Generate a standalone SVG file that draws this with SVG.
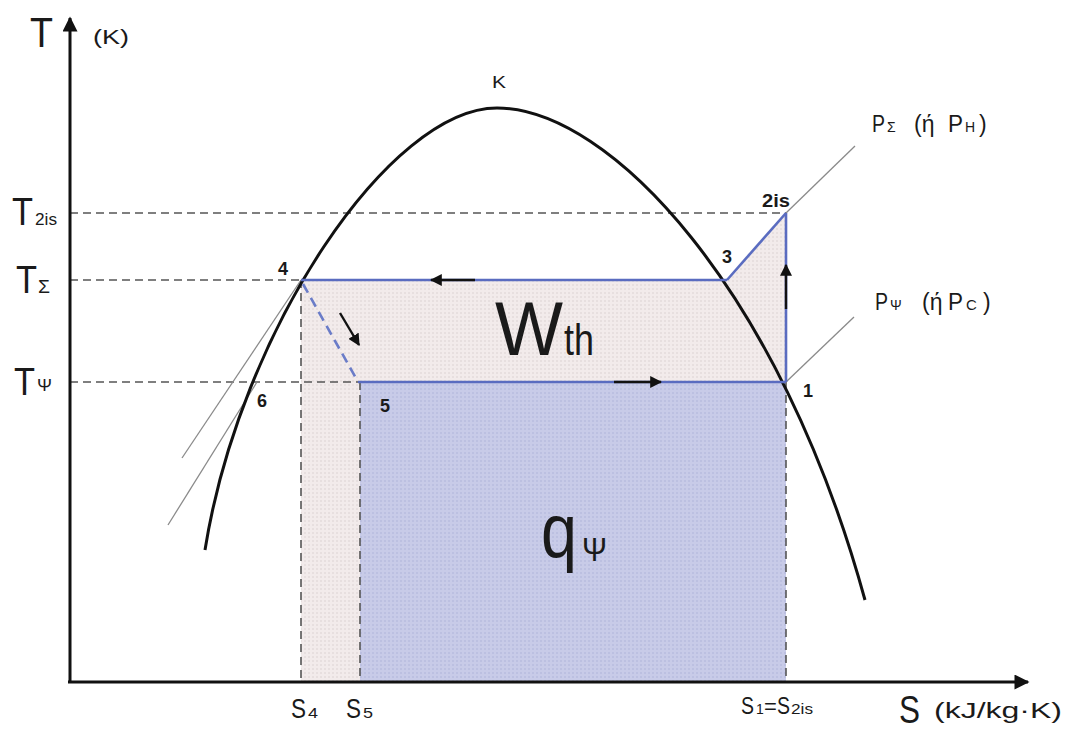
<svg xmlns="http://www.w3.org/2000/svg" width="1070" height="731" viewBox="0 0 1070 731">
<style>
text{font-family:"Liberation Sans",Arial,sans-serif;fill:#1a1a1a}
.num{font-weight:bold;font-size:18px}
.dash{stroke:#555;stroke-width:1.6;stroke-dasharray:8 5;fill:none}
.blue{stroke:#5a6cc0;stroke-width:2.6;fill:none}
.iso{stroke:#8a8a8a;stroke-width:1.3;fill:none}
.arr{stroke:#111;stroke-width:2.4;fill:none}
</style>
<defs>
<pattern id="dotPink" width="4" height="4" patternUnits="userSpaceOnUse"><rect width="4" height="4" fill="#f2ebeb"/><circle cx="1" cy="1" r="0.7" fill="#d6cacb"/></pattern>
<pattern id="dotBlue" width="4" height="4" patternUnits="userSpaceOnUse"><rect width="4" height="4" fill="#c8cbe8"/><circle cx="1" cy="1" r="0.7" fill="#a7add6"/></pattern>
<marker id="ah" viewBox="0 0 10 10" refX="9" refY="5" markerWidth="5" markerHeight="5" orient="auto" markerUnits="strokeWidth"><path d="M0,0 L10,5 L0,10 Z" fill="#111"/></marker>
<marker id="axh" viewBox="0 0 10 10" refX="9" refY="5" markerWidth="6" markerHeight="5" orient="auto" markerUnits="strokeWidth"><path d="M0,0 L10,5 L0,10 Z" fill="#111"/></marker>
</defs>
<rect width="1070" height="731" fill="#fff"/>

<g id="areas">
<polygon id="area-w" points="301,280 727,280 786,213 786,382 360,382 360,682 301,682" fill="url(#dotPink)"/>
<rect id="area-q" x="360" y="382" width="426" height="300" fill="url(#dotBlue)"/>
</g>

<g id="guides">
<line class="dash" x1="70" y1="213" x2="786" y2="213"/>
<line class="dash" x1="70" y1="280" x2="301" y2="280"/>
<line class="dash" x1="70" y1="382" x2="358" y2="382"/>
<line class="dash" x1="301" y1="280" x2="301" y2="682"/>
<line class="dash" x1="360" y1="382" x2="360" y2="682"/>
<line class="dash" x1="786" y1="382" x2="786" y2="682"/>
</g>

<g id="isobars">
<line class="iso" x1="786" y1="213" x2="855" y2="146"/>
<line class="iso" x1="786" y1="382" x2="854" y2="317"/>
<line class="iso" x1="301" y1="280" x2="182" y2="458"/>
<line class="iso" x1="257" y1="382" x2="168" y2="525"/>
</g>

<g id="dome">
<path d="M205,550 C240,330 390,108 497,108 C610,108 780,290 865,600" fill="none" stroke="#111" stroke-width="3"/>
</g>

<g id="axes">
<line x1="70" y1="682" x2="70" y2="18" stroke="#111" stroke-width="3" marker-end="url(#axh)"/>
<line x1="68" y1="682" x2="1028" y2="682" stroke="#111" stroke-width="3" marker-end="url(#axh)"/>
</g>

<g id="connectors">
<line class="blue" x1="301" y1="280" x2="727" y2="280"/>
<line class="blue" x1="727" y1="280" x2="786" y2="213"/>
<line class="blue" x1="786" y1="213" x2="786" y2="382"/>
<line class="blue" x1="358" y1="382" x2="786" y2="382"/>
<line x1="303" y1="284" x2="357" y2="380" stroke="#6a7cc8" stroke-width="2.6" stroke-dasharray="10 6"/>
<line class="arr" x1="475" y1="280" x2="431" y2="280" marker-end="url(#ah)"/>
<line class="arr" x1="614" y1="382" x2="661" y2="382" marker-end="url(#ah)"/>
<line class="arr" x1="786" y1="309" x2="786" y2="265" marker-end="url(#ah)"/>
<line class="arr" x1="340" y1="313" x2="359" y2="345" marker-end="url(#ah)"/>
</g>

<g id="axis-labels">
<text x="30" y="47" font-size="42" textLength="23" lengthAdjust="spacingAndGlyphs">T</text>
<text x="93" y="44" font-size="20" textLength="36" lengthAdjust="spacingAndGlyphs">(K)</text>
<text x="899" y="723" font-size="38" textLength="21" lengthAdjust="spacingAndGlyphs">S</text>
<text x="934" y="718" font-size="22" textLength="128" lengthAdjust="spacingAndGlyphs">(kJ/kg·K)</text>
</g>

<g id="t-labels">
<text y="225"><tspan x="12" font-size="39" textLength="21" lengthAdjust="spacingAndGlyphs">T</tspan><tspan x="35" font-size="16" textLength="22" lengthAdjust="spacingAndGlyphs">2is</tspan></text>
<text y="293"><tspan x="16" font-size="39" textLength="21" lengthAdjust="spacingAndGlyphs">T</tspan><tspan x="38" font-size="18" textLength="12" lengthAdjust="spacingAndGlyphs">Σ</tspan></text>
<text y="395"><tspan x="14" font-size="38" textLength="21" lengthAdjust="spacingAndGlyphs">T</tspan><tspan x="37" y="391" font-size="16" textLength="15" lengthAdjust="spacingAndGlyphs">Ψ</tspan></text>
</g>

<g id="s-labels">
<text y="718"><tspan x="291" font-size="27" textLength="15" lengthAdjust="spacingAndGlyphs">S</tspan><tspan x="308" font-size="15" textLength="10" lengthAdjust="spacingAndGlyphs">4</tspan></text>
<text y="718"><tspan x="346" font-size="27" textLength="15" lengthAdjust="spacingAndGlyphs">S</tspan><tspan x="363" font-size="15" textLength="10" lengthAdjust="spacingAndGlyphs">5</tspan></text>
<text y="714"><tspan x="741" font-size="24" textLength="13" lengthAdjust="spacingAndGlyphs">S</tspan><tspan x="756" font-size="14">1</tspan><tspan x="764" font-size="22">=</tspan><tspan x="777" font-size="24" textLength="13" lengthAdjust="spacingAndGlyphs">S</tspan><tspan x="791" font-size="14" textLength="22" lengthAdjust="spacingAndGlyphs">2is</tspan></text>
</g>

<g id="node-K"><text x="492" y="88" font-size="17" textLength="14" lengthAdjust="spacingAndGlyphs">K</text></g>
<g id="node-1"><text class="num" x="803" y="397">1</text></g>
<g id="node-2is"><text class="num" x="762" y="207" textLength="28" lengthAdjust="spacingAndGlyphs">2is</text></g>
<g id="node-3"><text class="num" x="722" y="263">3</text></g>
<g id="node-4"><text class="num" x="278" y="275">4</text></g>
<g id="node-5"><text class="num" x="380" y="412">5</text></g>
<g id="node-6"><text class="num" x="257" y="407">6</text></g>

<g id="pressure-labels">
<text y="132" font-size="23"><tspan x="872" textLength="13" lengthAdjust="spacingAndGlyphs">P</tspan><tspan x="887" font-size="14">Σ</tspan><tspan x="914">(ή</tspan><tspan x="948" textLength="15" lengthAdjust="spacingAndGlyphs">P</tspan><tspan x="965" font-size="14">H</tspan><tspan x="979">)</tspan></text>
<text y="310" font-size="23"><tspan x="875" textLength="13" lengthAdjust="spacingAndGlyphs">P</tspan><tspan x="890" font-size="14">Ψ</tspan><tspan x="922">(ή</tspan><tspan x="948" textLength="15" lengthAdjust="spacingAndGlyphs">P</tspan><tspan x="966" font-size="15">C</tspan><tspan x="983">)</tspan></text>
</g>

<g id="area-labels">
<text y="355"><tspan x="495" font-size="76" textLength="68" lengthAdjust="spacingAndGlyphs">W</tspan><tspan x="564" font-size="44" textLength="30" lengthAdjust="spacingAndGlyphs">th</tspan></text>
<text y="557"><tspan x="541" font-size="76" textLength="36" lengthAdjust="spacingAndGlyphs">q</tspan><tspan x="582" y="561" font-size="34" textLength="25" lengthAdjust="spacingAndGlyphs">Ψ</tspan></text>
</g>
</svg>
